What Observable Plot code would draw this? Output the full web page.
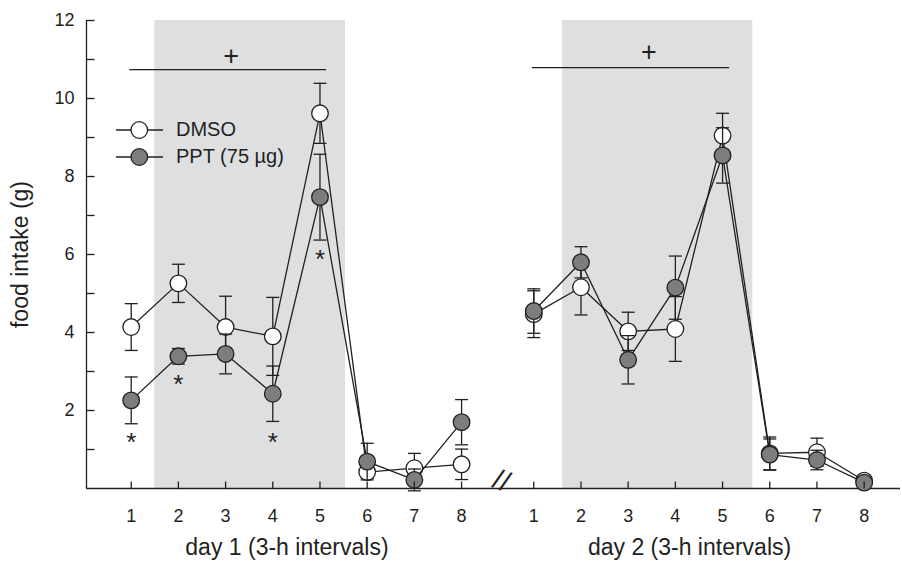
<!DOCTYPE html>
<html><head><meta charset="utf-8">
<script src="https://cdn.jsdelivr.net/npm/d3@7"></script>
<script src="https://cdn.jsdelivr.net/npm/@observablehq/plot@0.6"></script>
<style>
body{margin:0;background:#fff;}
#chart{position:relative;width:902px;height:563px;font-family:"Liberation Sans",Arial,sans-serif;}
#legend{position:absolute;left:116px;top:116px;}
.row{display:flex;align-items:center;height:27px;font-size:20px;color:#231f20;white-space:nowrap;}
.row svg{display:block;}
</style></head><body><div id="chart"><div id="legend"></div></div>
<script>
// ---- data ----
const intervals = [1, 2, 3, 4, 5, 6, 7, 8];
const dayNames = ["day 1 (3-h intervals)", "day 2 (3-h intervals)"];
const dayOffset = [0, 8.53];
const series = ["DMSO", "PPT (75 µg)"];
const seriesFill = ["#ffffff", "#7d7d7d"];

const dmsoDay1   = [4.14, 5.26, 4.14, 3.90, 9.62, 0.42, 0.52, 0.62];
const dmsoDay1Se = [0.60, 0.49, 0.79, 1.00, 0.77, 0.15, 0.38, 0.39];
const pptDay1    = [2.26, 3.39, 3.45, 2.43, 7.47, 0.69, 0.22, 1.70];
const pptDay1Se  = [0.60, 0.20, 0.51, 0.71, 1.10, 0.47, 0.28, 0.58];
const dmsoDay2   = [4.47, 5.16, 4.03, 4.09, 9.05, 0.90, 0.93, 0.20];
const dmsoDay2Se = [0.60, 0.71, 0.49, 0.83, 0.57, 0.42, 0.36, 0.08];
const pptDay2    = [4.55, 5.80, 3.30, 5.15, 8.54, 0.87, 0.73, 0.15];
const pptDay2Se  = [0.57, 0.40, 0.62, 0.81, 0.71, 0.40, 0.25, 0.08];

// significance asterisks (day 1)
const starInterval = [1, 2, 4, 5];
const starY = [1.32, 2.82, 1.32, 6.03];
// dark-phase shading (per day, in interval units)
const shadeStart = [1.5, 1.61];
const shadeEnd = [5.54, 5.64];
// "+" brackets (per day)
const bracketStart = [0.97, 0.97];
const bracketEnd = [5.14, 5.15];
const bracketY = [10.74, 10.79];
const plusPos = [3.12, 3.44];
const plusY = [11.08, 11.19];
// axes
const yMajorTicks = [2, 4, 6, 8, 10, 12];
const yMinorTicks = [1, 2, 3, 4, 5, 6, 7, 8, 9, 10, 11, 12];
const yDomain = [0, 12];
const xDomain = [0.053, 17.3];
const breakPos = [8.78];
const yLabel = "food intake (g)";
const dayLabelPos = 4.3;

// ---- build tables ----
const values = [[dmsoDay1, pptDay1], [dmsoDay2, pptDay2]];
const errors = [[dmsoDay1Se, pptDay1Se], [dmsoDay2Se, pptDay2Se]];
const rows = [];
for (let d = 0; d < 2; d++) for (let s = 0; s < 2; s++) intervals.forEach((iv, i) => {
  rows.push({day: d, s, group: d + "-" + s, pos: iv + dayOffset[d], label: String(iv),
             v: values[d][s][i], se: errors[d][s][i]});
});
const ticks = [];
for (let d = 0; d < 2; d++) intervals.forEach(iv => ticks.push({pos: iv + dayOffset[d], label: String(iv)}));
const shades = shadeStart.map((a, d) => ({x1: a + dayOffset[d], x2: shadeEnd[d] + dayOffset[d]}));
const brackets = bracketStart.map((a, d) => ({x1: a + dayOffset[d], x2: bracketEnd[d] + dayOffset[d], y: bracketY[d]}));
const pluses = plusPos.map((p, d) => ({x: p + dayOffset[d], y: plusY[d]}));
const stars = starInterval.map((iv, i) => ({x: iv + dayOffset[0], y: starY[i]}));
const dayLabels = dayNames.map((t, d) => ({x: dayLabelPos + dayOffset[d], t}));

const ink = "#231f20";
const capSym = {draw(c) { c.moveTo(-6.5, 0); c.lineTo(6.5, 0); }};
const tickRight = {draw(c) { c.moveTo(0, 0); c.lineTo(8, 0); }};
const tickUp = {draw(c) { c.moveTo(0, 0); c.lineTo(0, -7); }};

const seriesMarks = s => {
  const data = rows.filter(r => r.s === s);
  return [
    Plot.line(data, {x: "pos", y: "v", z: "group", stroke: ink, strokeWidth: 1.3}),
    Plot.ruleX(data, {x: "pos", y1: d => d.v - d.se, y2: d => d.v + d.se, stroke: ink, strokeWidth: 1.3}),
    Plot.dot(data, {x: "pos", y: d => d.v + d.se, symbol: capSym, fill: "none", stroke: ink, strokeWidth: 1.3}),
    Plot.dot(data, {x: "pos", y: d => d.v - d.se, symbol: capSym, fill: "none", stroke: ink, strokeWidth: 1.3}),
    Plot.dot(data, {x: "pos", y: "v", r: 8.3, fill: seriesFill[s], stroke: ink, strokeWidth: 1.3})
  ];
};

const chart = Plot.plot({
  width: 902, height: 563,
  marginLeft: 86, marginRight: 2, marginTop: 20, marginBottom: 75,
  style: {fontFamily: '"Liberation Sans", Arial, sans-serif', color: ink, background: "#fff"},
  x: {domain: xDomain, axis: null},
  y: {domain: yDomain, axis: null},
  marks: [
    Plot.rect(shades, {x1: "x1", x2: "x2", fill: "#dedfe1"}),
    Plot.ruleY(brackets, {y: "y", x1: "x1", x2: "x2", stroke: ink, strokeWidth: 1.3}),
    Plot.text(pluses, {x: "x", y: "y", text: () => "+", fontSize: 27, fill: ink}),
    Plot.ruleX([xDomain[0]], {y1: yDomain[0], y2: yDomain[1], stroke: ink, strokeWidth: 1.3}),
    Plot.ruleY([yDomain[0]], {stroke: ink, strokeWidth: 1.3}),
    Plot.text(breakPos, {x: d => d, frameAnchor: "bottom", text: () => "//", fontSize: 28, rotate: 20, dy: 1, fill: ink}),
    ...seriesMarks(0),
    ...seriesMarks(1),
    Plot.text(stars, {x: "x", y: "y", text: () => "*", fontSize: 26, dy: 6, fill: ink}),
    Plot.dot(yMinorTicks, {y: d => d, frameAnchor: "left", symbol: tickRight, fill: "none", stroke: ink, strokeWidth: 1.3}),
    Plot.dot(ticks, {x: "pos", frameAnchor: "bottom", symbol: tickUp, fill: "none", stroke: ink, strokeWidth: 1.3}),
    Plot.text(yMajorTicks, {y: d => d, frameAnchor: "left", text: d => String(d), textAnchor: "end", dx: -12, fontSize: 18, fill: ink}),
    Plot.text(ticks, {x: "pos", frameAnchor: "bottom", text: "label", dy: 33, fontSize: 18, fill: ink}),
    Plot.text(dayLabels, {x: "x", frameAnchor: "bottom", text: "t", dy: 66, fontSize: 23, fill: ink}),
    Plot.text([yLabel], {frameAnchor: "left", text: d => d, textAnchor: "middle", rotate: -90, dx: -66, fontSize: 23, fill: ink})
  ]
});
document.getElementById("chart").prepend(chart);

// legend
const legend = document.getElementById("legend");
series.forEach((name, s) => {
  const row = document.createElement("div");
  row.className = "row";
  row.innerHTML = `<svg width="60" height="20"><line x1="0" y1="10" x2="47" y2="10" stroke="${ink}" stroke-width="1.3"/>` +
    `<circle cx="23.3" cy="10" r="8.3" fill="${seriesFill[s]}" stroke="${ink}" stroke-width="1.3"/></svg><span>${name}</span>`;
  legend.appendChild(row);
});
</script></body></html>
